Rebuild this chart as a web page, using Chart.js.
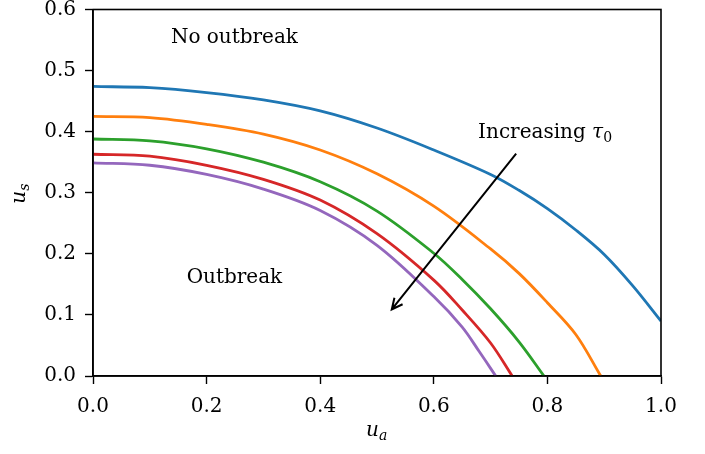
<!DOCTYPE html>
<html>
<head>
<meta charset="utf-8">
<script src="https://cdn.jsdelivr.net/npm/chart.js@4"></script>
<style>
  html, body { margin: 0; padding: 0; background: #fff; }
  #wrap { width: 705px; height: 454px; }
</style>
</head>
<body>
<div id="wrap"><canvas id="myChart" width="705" height="454"></canvas></div>
<script>
// threshold curves u_s(u_a), one per tau_0 value
var ua1 = [0.0, 0.1, 0.2, 0.3, 0.4, 0.5, 0.6, 0.7, 0.75, 0.8, 0.85, 0.9, 0.95, 1.0];
var us1 = [0.474, 0.472, 0.464, 0.452, 0.434, 0.406, 0.370, 0.330, 0.304, 0.274, 0.239, 0.199, 0.148, 0.090];

var ua2 = [0.0, 0.1, 0.2, 0.3, 0.4, 0.5, 0.6, 0.7, 0.75, 0.8, 0.85, 0.894];
var us2 = [0.425, 0.423, 0.412, 0.396, 0.370, 0.331, 0.278, 0.208, 0.168, 0.120, 0.068, 0.0];

var ua3 = [0.0, 0.1, 0.2, 0.3, 0.4, 0.5, 0.6, 0.65, 0.7, 0.75, 0.794];
var us3 = [0.388, 0.385, 0.372, 0.350, 0.318, 0.270, 0.201, 0.158, 0.110, 0.056, 0.0];

var ua4 = [0.0, 0.1, 0.2, 0.3, 0.4, 0.5, 0.6, 0.65, 0.7, 0.738];
var us4 = [0.363, 0.360, 0.345, 0.322, 0.288, 0.233, 0.157, 0.108, 0.054, 0.0];

var ua5 = [0.0, 0.1, 0.2, 0.3, 0.4, 0.5, 0.6, 0.65, 0.68, 0.709];
var us5 = [0.349, 0.345, 0.330, 0.306, 0.271, 0.214, 0.130, 0.080, 0.040, 0.0];

var xTicks = [0.0, 0.2, 0.4, 0.6, 0.8, 1.0];
var yTicks = [0.0, 0.1, 0.2, 0.3, 0.4, 0.5, 0.6];

var colors = ['#1f77b4', '#ff7f0e', '#2ca02c', '#d62728', '#9467bd'];
var curves = [[ua1, us1], [ua2, us2], [ua3, us3], [ua4, us4], [ua5, us5]];

function toPoints(xs, ys) {
    var pts = [];
    for (var i = 0; i < xs.length; i++) {
        pts.push({x: xs[i], y: ys[i]});
    }
    return pts;
}

var datasets = curves.map(function(c, i) {
    return {
        data: toPoints(c[0], c[1]),
        showLine: true,
        borderColor: colors[i],
        backgroundColor: colors[i],
        borderWidth: 2.8,
        pointRadius: 0,
        tension: 0.35,
        fill: false
    };
});

var serif = 'DejaVu Serif';

// text with an italic letter and a small subscript, e.g. u_a
function mathText(ctx, base, sub, x, y) {
    ctx.font = 'italic 20px ' + serif;
    ctx.fillText(base, x, y);
    var w = ctx.measureText(base).width;
    ctx.font = 'italic 14px ' + serif;
    ctx.fillText(sub, x + w, y + 5);
    return w + ctx.measureText(sub).width;
}

var annotations = {
    id: 'annotations',
    afterDraw: function(chart) {
        var ctx = chart.ctx;
        var xs = chart.scales.x, ys = chart.scales.y;
        var area = chart.chartArea;
        ctx.save();
        ctx.fillStyle = '#000';
        ctx.strokeStyle = '#000';

        // frame on all four sides
        ctx.lineWidth = 1.6;
        ctx.strokeRect(area.left, area.top, area.right - area.left, area.bottom - area.top);

        ctx.textBaseline = 'middle';

        // region labels
        ctx.font = '20px ' + serif;
        ctx.textAlign = 'center';
        ctx.fillText('No outbreak', xs.getPixelForValue(0.249), ys.getPixelForValue(0.553));
        ctx.fillText('Outbreak', xs.getPixelForValue(0.249), ys.getPixelForValue(0.161));

        // Increasing tau_0
        ctx.textAlign = 'left';
        var tx = xs.getPixelForValue(0.678), ty = ys.getPixelForValue(0.398);
        ctx.font = '20px ' + serif;
        ctx.fillText('Increasing ', tx, ty);
        var w = ctx.measureText('Increasing ').width;
        ctx.font = 'italic 20px ' + serif;
        ctx.fillText('\u03c4', tx + w, ty);
        w += ctx.measureText('\u03c4').width;
        ctx.font = '14px ' + serif;
        ctx.fillText('0', tx + w, ty + 5);

        // arrow
        var x0 = xs.getPixelForValue(0.745), y0 = ys.getPixelForValue(0.364);
        var x1 = xs.getPixelForValue(0.526), y1 = ys.getPixelForValue(0.109);
        ctx.lineWidth = 2;
        ctx.beginPath();
        ctx.moveTo(x0, y0);
        ctx.lineTo(x1, y1);
        var ang = Math.atan2(y1 - y0, x1 - x0);
        var hl = 12, ha = 0.45;
        ctx.moveTo(x1 - hl * Math.cos(ang - ha), y1 - hl * Math.sin(ang - ha));
        ctx.lineTo(x1, y1);
        ctx.lineTo(x1 - hl * Math.cos(ang + ha), y1 - hl * Math.sin(ang + ha));
        ctx.stroke();

        // axis titles
        ctx.textAlign = 'left';
        var cx = (area.left + area.right) / 2;
        mathText(ctx, 'u', 'a', cx - 11, 431);
        ctx.translate(20, (area.top + area.bottom) / 2);
        ctx.rotate(-Math.PI / 2);
        mathText(ctx, 'u', 's', -11, 0);
        ctx.restore();
    }
};

var ctx = document.getElementById('myChart').getContext('2d');
var myChart = new Chart(ctx, {
    type: 'scatter',
    data: { datasets: datasets },
    options: {
        responsive: false,
        animation: false,
        layout: { padding: { top: 9.5, right: 44, left: 0, bottom: 0 } },
        plugins: {
            legend: { display: false },
            tooltip: { enabled: false }
        },
        scales: {
            x: {
                type: 'linear',
                min: 0, max: 1.0,
                afterBuildTicks: function(scale) {
                    scale.ticks = xTicks.map(function(v) { return {value: v}; });
                },
                afterFit: function(scale) {
                    scale.height = 78;
                    scale.paddingLeft = 0;
                    scale.paddingRight = 0;
                },
                ticks: {
                    color: '#000',
                    font: { family: serif, size: 20 },
                    padding: 11,
                    maxRotation: 0,
                    callback: function(v) { return v.toFixed(1); }
                },
                grid: {
                    drawOnChartArea: false,
                    color: '#000',
                    tickLength: 8,
                    tickWidth: 1.4
                },
                border: { color: '#000', width: 1.6 }
            },
            y: {
                type: 'linear',
                min: 0, max: 0.6,
                afterBuildTicks: function(scale) {
                    scale.ticks = yTicks.map(function(v) { return {value: v}; });
                },
                afterFit: function(scale) {
                    scale.width = 93;
                    scale.paddingTop = 0;
                    scale.paddingBottom = 0;
                },
                ticks: {
                    color: '#000',
                    font: { family: serif, size: 20 },
                    padding: 9,
                    callback: function(v) { return v.toFixed(1); }
                },
                grid: {
                    drawOnChartArea: false,
                    color: '#000',
                    tickLength: 8,
                    tickWidth: 1.4
                },
                border: { color: '#000', width: 1.6 }
            }
        }
    },
    plugins: [annotations]
});
</script>
</body>
</html>
